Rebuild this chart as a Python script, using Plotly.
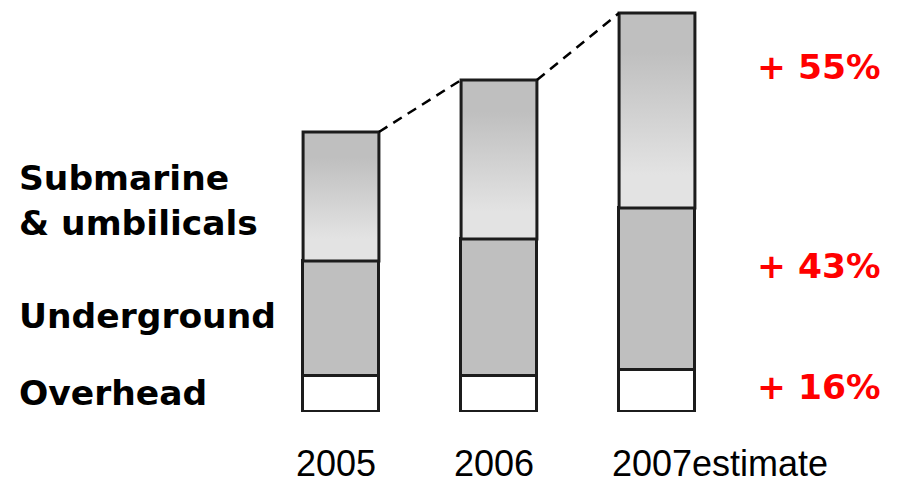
import plotly.graph_objects as go

# Cable sales by segment (relative units), stacked bottom to top
years = ["2005", "2006", "2007"]
year_notes = ["", "", "estimate"]
overhead = [36, 36, 42]
underground = [115, 137, 162]
submarine = [129, 159, 195]

segment_labels = ["Submarine<br>& umbilicals", "Underground", "Overhead"]
segment_label_y = [212, 96, 19]
growth_labels = ["+ 55%", "+ 43%", "+ 16%"]
growth_label_y = [345, 146, 25]

EDGE = "#1c1c1c"
BAR_W = 0.48
xs = list(range(len(years)))

fig = go.Figure()

# Overhead and underground as plain stacked bars
fig.add_bar(x=xs, y=overhead, width=BAR_W,
            marker=dict(color="white", line=dict(color=EDGE, width=3)))
fig.add_bar(x=xs, y=underground, width=BAR_W,
            marker=dict(color="#bfbfbf", line=dict(color=EDGE, width=3)))

# Submarine segment on top, filled with a vertical grey gradient
bases = [o + u for o, u in zip(overhead, underground)]
tops = [b + s for b, s in zip(bases, submarine)]
for i, (b, t) in enumerate(zip(bases, tops)):
    left, right = i - BAR_W / 2, i + BAR_W / 2
    fig.add_scatter(
        x=[left, right, right, left, left],
        y=[b, b, t, t, b],
        mode="lines", fill="toself",
        fillgradient=dict(type="vertical",
                          colorscale=[[0, "#e3e3e3"], [0.17, "#e3e3e3"],
                                      [0.8, "#bfbfbf"], [1, "#bfbfbf"]]),
        line=dict(color=EDGE, width=3),
        hoverinfo="skip",
    )

# Dashed connector between the tops of neighbouring bars
cx, cy = [], []
for i in range(len(years) - 1):
    cx += [i + BAR_W / 2, i + 1 - BAR_W / 2, None]
    cy += [tops[i], tops[i + 1], None]
fig.add_scatter(x=cx, y=cy, mode="lines",
                line=dict(color="black", width=2.5, dash="10px,7px"),
                hoverinfo="skip")

bold = dict(family="DejaVu Sans", size=34.5, weight="bold")
annotations = []
for text, y in zip(segment_labels, segment_label_y):
    annotations.append(dict(text=text, xref="paper", x=17 / 897, xanchor="left",
                            yref="y", y=y, yanchor="middle", align="left",
                            showarrow=False, font=dict(bold, color="black")))
for text, y in zip(growth_labels, growth_label_y):
    annotations.append(dict(text=text, xref="paper", x=755 / 897, xanchor="left",
                            yref="y", y=y, yanchor="middle",
                            showarrow=False, font=dict(bold, color="#ff0000")))
for i, (yr, note) in enumerate(zip(years, year_notes)):
    annotations.append(dict(text=yr + note, xref="x", x=i, xanchor="left", xshift=-46,
                            yref="paper", y=(412 - 485) / 412, yanchor="bottom",
                            borderpad=0, showarrow=False,
                            font=dict(family="Liberation Sans", size=36, color="black")))

fig.update_layout(
    width=897, height=486,
    margin=dict(l=0, r=0, t=0, b=74),
    barmode="stack", bargap=0,
    showlegend=False,
    paper_bgcolor="white", plot_bgcolor="white",
    xaxis=dict(range=[-341 / 158, (897 - 341) / 158], visible=False, fixedrange=True),
    yaxis=dict(range=[0, 412], visible=False, fixedrange=True),
    annotations=annotations,
)

fig.write_html("out.html")
